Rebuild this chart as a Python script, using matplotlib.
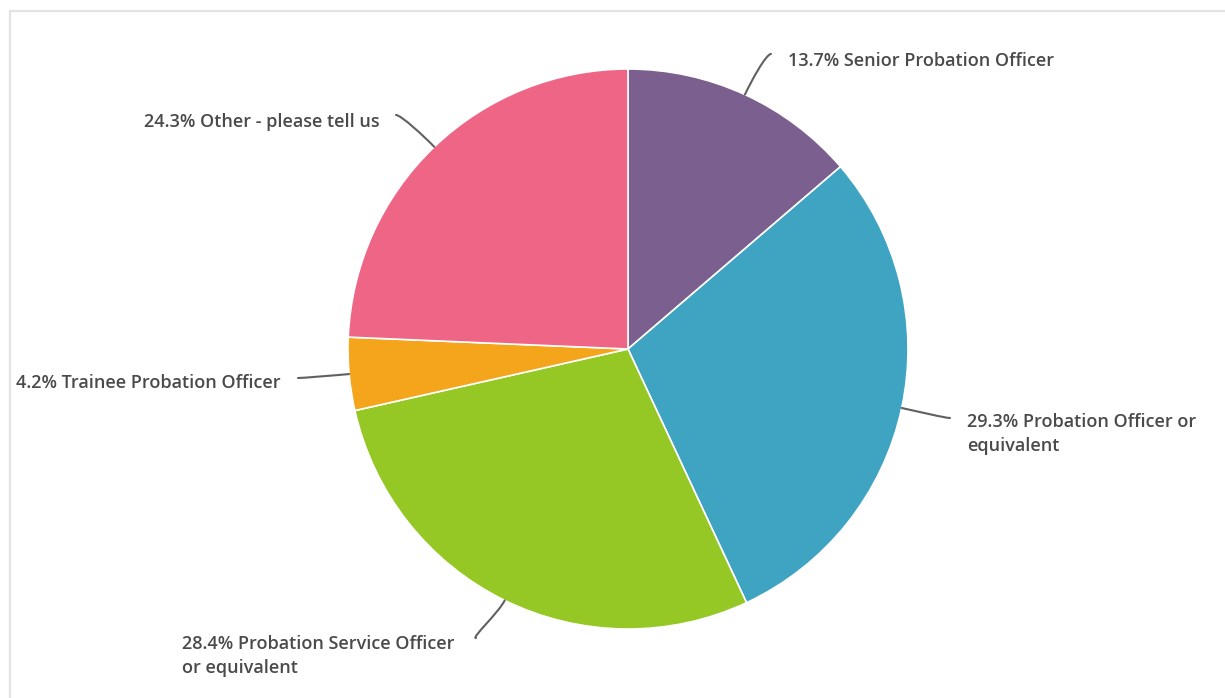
import numpy as np
import matplotlib.pyplot as plt
from matplotlib.path import Path
from matplotlib.patches import PathPatch

roles = ['Senior Probation Officer', 'Probation Officer or\nequivalent',
         'Probation Service Officer\nor equivalent', 'Trainee Probation Officer',
         'Other - please tell us']
shares = [13.7, 29.3, 28.4, 4.2, 24.3]
colors = ['#7b5f8e', '#3fa3c2', '#95c825', '#f4a51c', '#ef6585']

# label anchor (text x, text y, horizontal alignment) in pixel space
label_pos = [(788, 61, 'left'), (967, 434, 'left'), (182, 656, 'left'),
             (281, 383, 'right'), (380, 122, 'right')]
# where each connector ends near its label
conn_end = [(771, 54), (950, 418), (476, 638), (298, 378), (396, 115)]

W, H = 1225, 698
fig = plt.figure(figsize=(W / 100, H / 100), dpi=100)
ax = fig.add_axes([0, 0, 1, 1])

cx, cy, r = 628, 349, 280
# y axis is flipped, so counterclock=True draws clockwise on screen
wedges, _ = ax.pie(shares, colors=colors, startangle=-90, counterclock=True,
                   center=(cx, cy), radius=r, normalize=True,
                   wedgeprops=dict(edgecolor='white', linewidth=1.2))
ax.set_xlim(0, W)
ax.set_ylim(H, 0)
ax.set_aspect('equal')
ax.axis('off')

font = dict(family=['Open Sans', 'DejaVu Sans'], fontsize=13,
            fontweight='semibold', color='#4a4a4a')

for w, name, val, (tx, ty, ha), (ex, ey) in zip(wedges, roles, shares,
                                                label_pos, conn_end):
    mid = np.deg2rad((w.theta1 + w.theta2) / 2)
    dx, dy = np.cos(mid), np.sin(mid)
    sx, sy = cx + r * dx, cy + r * dy
    side = 1 if ha == 'left' else -1
    verts = [(sx, sy), (sx + 14 * dx, sy + 14 * dy), (ex - 5 * side, ey), (ex, ey)]
    path = Path(verts, [Path.MOVETO, Path.CURVE4, Path.CURVE4, Path.CURVE4])
    ax.add_patch(PathPatch(path, fill=False, edgecolor='#606060', linewidth=1.5,
                           capstyle='round'))
    ax.text(tx, ty, f'{val}% {name}', ha=ha, va='center', linespacing=1.4, **font)

# card border
ax.plot([10, 10, W + 5], [H + 5, 11, 11], color='#e3e3e3', linewidth=1.6,
        clip_on=False)

fig.savefig('out.png', dpi=100, facecolor='white')
